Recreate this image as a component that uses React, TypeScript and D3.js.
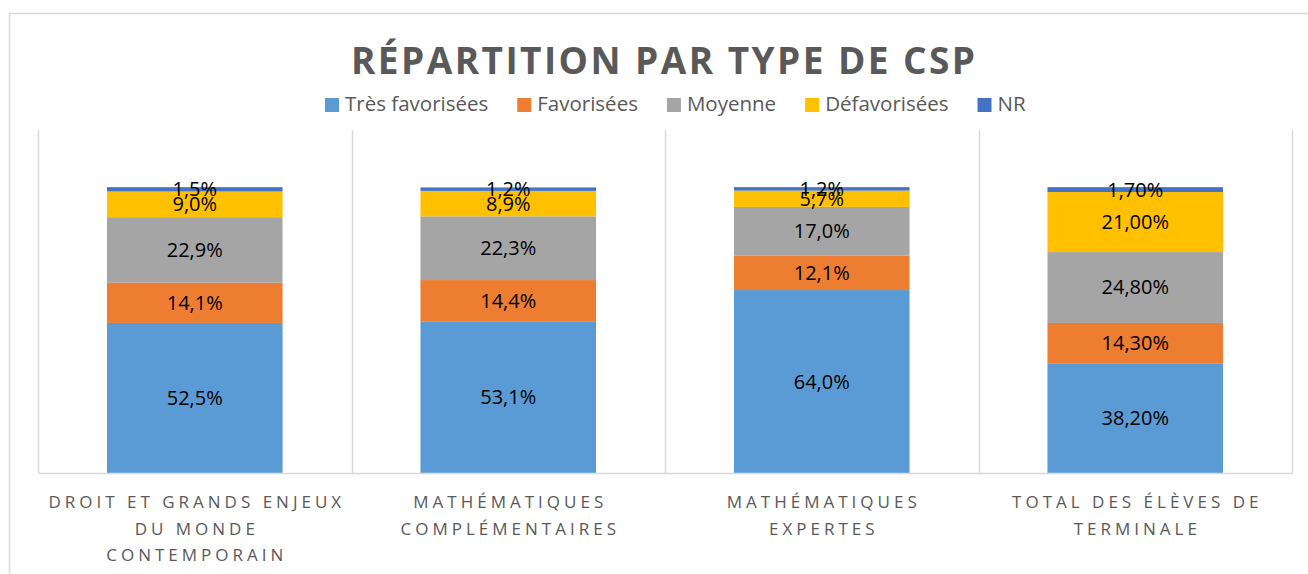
import React, { useEffect, useRef } from "react";
import * as d3 from "d3";

// categories (x axis) and their wrapped tick labels
const categories = [
  "Droit et grands enjeux du monde contemporain",
  "Mathématiques complémentaires",
  "Mathématiques expertes",
  "Total des élèves de terminale",
];
const tickLines = [
  ["DROIT ET GRANDS ENJEUX", "DU MONDE", "CONTEMPORAIN"],
  ["MATHÉMATIQUES", "COMPLÉMENTAIRES"],
  ["MATHÉMATIQUES", "EXPERTES"],
  ["TOTAL DES ÉLÈVES DE", "TERMINALE"],
];
// decimals shown in the data labels, per category
const labelDecimals = [1, 1, 1, 2];

const seriesNames = ["Très favorisées", "Favorisées", "Moyenne", "Défavorisées", "NR"];
const seriesColors = ["#5B9BD5", "#ED7D31", "#A5A5A5", "#FFC000", "#4472C4"];

// values in %, one array per series, in category order
const tresFavorisees = [52.5, 53.1, 64.0, 38.2];
const favorisees = [14.1, 14.4, 12.1, 14.3];
const moyenne = [22.9, 22.3, 17.0, 24.8];
const defavorisees = [9.0, 8.9, 5.7, 21.0];
const nr = [1.5, 1.2, 1.2, 1.7];

const seriesValues = [tresFavorisees, favorisees, moyenne, defavorisees, nr];

const title = "RÉPARTITION PAR TYPE DE CSP";

const App = () => {
  const ref = useRef<SVGSVGElement>(null);

  useEffect(() => {
    const width = 1308;
    const height = 574;
    const plot = { left: 38, right: 1292, top: 130, bottom: 473 };
    const grey = "#595959";
    const gridColor = "#D9D9D9";
    const font = "'Open Sans', 'Noto Sans', sans-serif";

    d3.select(ref.current).selectAll("*").remove();

    const svg = d3
      .select(ref.current)
      .attr("width", width)
      .attr("height", height)
      .style("font-family", font);

    svg.append("rect").attr("width", width).attr("height", height).attr("fill", "#fff");

    // chart frame (runs off the right and bottom of the picture)
    svg
      .append("rect")
      .attr("x", 9.5)
      .attr("y", 13.5)
      .attr("width", 1320)
      .attr("height", 620)
      .attr("fill", "none")
      .attr("stroke", gridColor)
      .attr("stroke-width", 1.5);

    // build the table for the stack
    const rows = categories.map((c, i) => {
      const row: any = { category: c, index: i };
      seriesNames.forEach((s, j) => (row[s] = seriesValues[j][i]));
      return row;
    });
    const stacked = d3.stack<any>().keys(seriesNames)(rows);

    const x_scale = d3
      .scaleBand()
      .domain(categories)
      .range([plot.left, plot.right])
      .paddingInner(0.44)
      .paddingOuter(0.22);

    const y_scale = d3.scaleLinear().domain([0, 120]).range([plot.bottom, plot.top]);

    const step = x_scale.step();

    // vertical gridlines at category boundaries
    const bounds = categories.map((c) => x_scale(c)! - (step - x_scale.bandwidth()) / 2);
    bounds.push(plot.right);
    svg
      .append("g")
      .selectAll("line")
      .data(bounds)
      .enter()
      .append("line")
      .attr("x1", (d) => Math.round(d) + 0.5)
      .attr("x2", (d) => Math.round(d) + 0.5)
      .attr("y1", plot.top)
      .attr("y2", plot.bottom)
      .attr("stroke", gridColor)
      .attr("stroke-width", 1.5);

    // bars
    const layers = svg
      .append("g")
      .selectAll("g")
      .data(stacked)
      .enter()
      .append("g")
      .attr("fill", (d, i) => seriesColors[i]);

    layers
      .selectAll("rect")
      .data((d) => d)
      .enter()
      .append("rect")
      .attr("x", (d: any) => x_scale(d.data.category)!)
      .attr("y", (d) => y_scale(d[1]))
      .attr("width", x_scale.bandwidth())
      .attr("height", (d) => y_scale(d[0]) - y_scale(d[1]));

    // x axis line
    svg
      .append("g")
      .attr("transform", `translate(0,${plot.bottom})`)
      .call(d3.axisBottom(x_scale).tickSize(0).tickFormat(() => ""))
      .call((g) => g.select(".domain").attr("stroke", gridColor).attr("stroke-width", 1.5));

    // data labels
    const fmt = (v: number, dec: number) => v.toFixed(dec).replace(".", ",") + "%";
    stacked.forEach((layer) => {
      svg
        .append("g")
        .selectAll("text")
        .data(layer)
        .enter()
        .append("text")
        .attr("x", (d: any) => x_scale(d.data.category)! + x_scale.bandwidth() / 2)
        .attr("y", (d) => (y_scale(d[0]) + y_scale(d[1])) / 2)
        .attr("dy", "0.35em")
        .attr("text-anchor", "middle")
        .attr("font-size", 20)
        .attr("fill", "#000")
        .text((d: any) => fmt(d[1] - d[0], labelDecimals[d.data.index]));
    });

    // category labels
    const ticks = svg.append("g");
    categories.forEach((c, i) => {
      const cx = x_scale(c)! + x_scale.bandwidth() / 2;
      tickLines[i].forEach((line, k) => {
        ticks
          .append("text")
          .attr("x", cx + 2)
          .attr("y", 508 + k * 26.5)
          .attr("text-anchor", "middle")
          .attr("font-size", 17)
          .attr("letter-spacing", "4px")
          .attr("fill", grey)
          .text(line);
      });
    });

    // title
    svg
      .append("text")
      .attr("x", 663)
      .attr("y", 74)
      .attr("text-anchor", "middle")
      .attr("font-size", 37)
      .attr("font-weight", "bold")
      .attr("fill", grey)
      .attr("textLength", 624)
      .attr("lengthAdjust", "spacing")
      .text(title);

    // legend
    const legend = svg.append("g").attr("transform", "translate(325,0)");
    let lx = 0;
    seriesNames.forEach((name, i) => {
      legend
        .append("rect")
        .attr("x", lx)
        .attr("y", 98)
        .attr("width", 14)
        .attr("height", 14)
        .attr("fill", seriesColors[i]);
      const t = legend
        .append("text")
        .attr("x", lx + 20)
        .attr("y", 111)
        .attr("font-size", 20.5)
        .attr("fill", grey)
        .text(name);
      const w = (t.node() as SVGTextElement).getComputedTextLength();
      lx += 20 + w + 29;
    });
  }, []);

  return (
    <svg ref={ref} style={{ position: "absolute", left: 0, top: 0, display: "block" }}></svg>
  );
};

export default App;
